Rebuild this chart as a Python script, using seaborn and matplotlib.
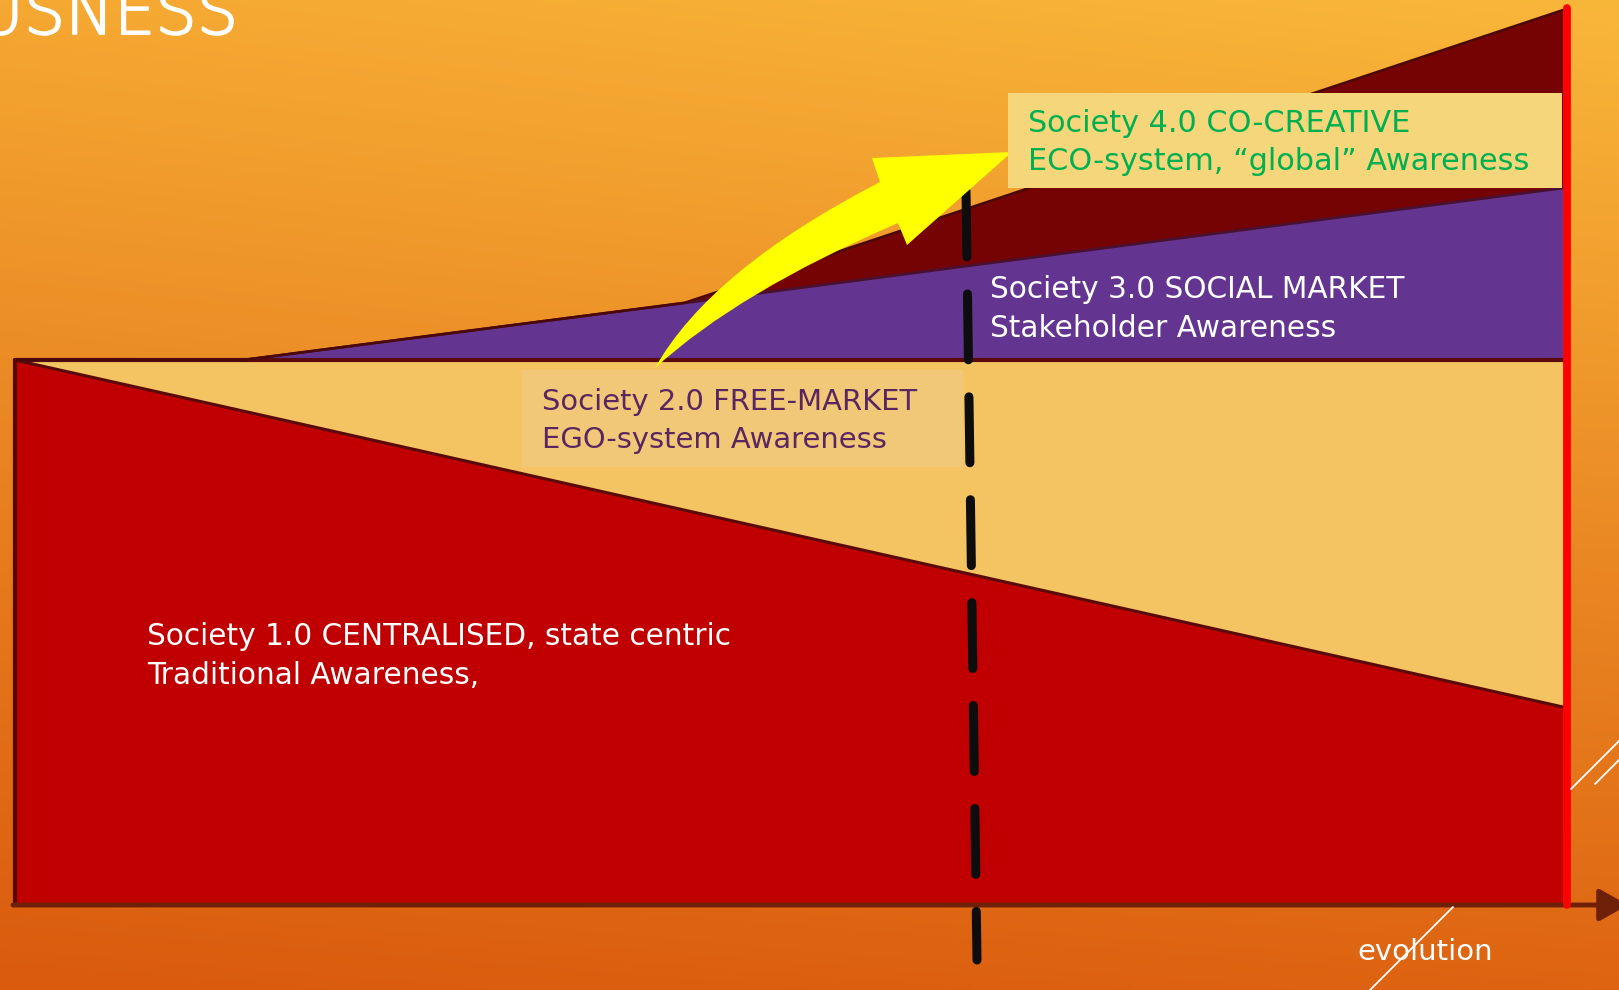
import numpy as np
import pandas as pd
import matplotlib
matplotlib.use("Agg")
import matplotlib.pyplot as plt
import matplotlib.patheffects as pe
import seaborn as sns
from matplotlib.path import Path
from matplotlib.patches import PathPatch, Rectangle

# ---------------- data (diagram geometry, pixel units) -------------
stage_x = [15, 243, 684, 1563]                 # positions along the "evolution" axis
society1_top = [360, 411, 510, 707]            # top of Society 1.0 (red)
society2_top = [360, 360, 360, 360]            # top of Society 2.0 (light yellow)
society3_top = [360, 360, 303, 188]            # top of Society 3.0 (purple)
society4_top = [360, 360, 303, 10]             # top of Society 4.0 (maroon)
baseline_y = 905

title_text = "USNESS"
society1_lines = ["Society 1.0 CENTRALISED, state centric", "Traditional Awareness,"]
society2_lines = ["Society 2.0 FREE-MARKET", "EGO-system Awareness"]
society3_lines = ["Society 3.0 SOCIAL MARKET", "Stakeholder Awareness"]
society4_lines = ["Society 4.0 CO-CREATIVE", "ECO-system, \u201cglobal\u201d Awareness"]
axis_label = "evolution"

# ---------------- style ---------------------------------------------------------------
sns.set_style("white")
plt.rcParams['font.family'] = ['DejaVu Sans']

W, H = 1619, 990
fig = plt.figure(figsize=(W / 100, H / 100), dpi=100)
ax = fig.add_axes([0, 0, 1, 1])
ax.set_xlim(0, W)
ax.set_ylim(H, 0)
ax.axis('off')

# background gradient
tl = np.array([245, 168, 50]) / 255
tr = np.array([249, 183, 58]) / 255
bl = np.array([218, 90, 14]) / 255
br = np.array([222, 100, 18]) / 255
ty = np.linspace(0, 1, 200)[:, None, None]
tx = np.linspace(0, 1, 300)[None, :, None]
top = tl * (1 - tx) + tr * tx
bot = bl * (1 - tx) + br * tx
grad = top * (1 - ty) + bot * ty
ax.imshow(grad, extent=[0, W, H, 0], aspect='auto', zorder=0, interpolation='bilinear')

x = np.array(stage_x)
s1 = np.array(society1_top)
s2 = np.array(society2_top)
s3 = np.array(society3_top)
s4 = np.array(society4_top)

ax.fill_between(x, baseline_y, s1, color='#C00000', zorder=2, lw=0)
ax.fill_between(x, s1, s2, color='#F4C462', zorder=2, lw=0)
ax.fill_between(x, s2, s3, color='#643590', zorder=2, lw=0)
ax.fill_between(x, s3, s4, color='#760303', zorder=2, lw=0)

edges = pd.DataFrame({
    'x': np.concatenate([x, x, x, x]),
    'y': np.concatenate([s1, s2, s3, s4]),
    'layer': ['s1'] * 4 + ['s2'] * 4 + ['s3'] * 4 + ['s4'] * 4,
})
sns.lineplot(data=edges[edges.layer == 's1'], x='x', y='y', estimator=None, sort=False,
             color='#5A0A0A', lw=2.2, ax=ax, zorder=3)
sns.lineplot(data=edges[edges.layer == 's2'], x='x', y='y', estimator=None, sort=False,
             color='#5A0A0A', lw=3.0, ax=ax, zorder=3)
sns.lineplot(data=edges[edges.layer == 's3'], x='x', y='y', estimator=None, sort=False,
             color='#4A1030', lw=2.0, ax=ax, zorder=3)
sns.lineplot(data=edges[edges.layer == 's4'], x='x', y='y', estimator=None, sort=False,
             color='#4A0808', lw=1.8, ax=ax, zorder=3)
# left border of the box
ax.plot([stage_x[0], stage_x[0]], [society2_top[0], baseline_y], color='#5A0505', lw=3.0, zorder=3)

# baseline arrow
ax.annotate('', xy=(1628, baseline_y), xytext=(13, baseline_y), annotation_clip=False,
            arrowprops=dict(arrowstyle='-|>,head_length=0.8,head_width=0.45', mutation_scale=22,
                            lw=3.5, color='#6E2008', shrinkA=0, shrinkB=0), zorder=4)

# red vertical line
ax.plot([1567, 1567], [8, baseline_y], color='#FF0000', lw=5.6, solid_capstyle='round', zorder=5)

# dashed black vertical line
ax.plot([966, 977], [191, 960], color='#0D0D0D', lw=6.5, linestyle=(0, (7.3, 4.1)),
        dash_capstyle='round', zorder=4)

# yellow curved arrow
verts = [(655, 368), (710, 270), (880, 182), (872, 158), (1012, 152), (907, 245),
         (898, 223), (738, 292), (655, 368), (655, 368)]
codes = [Path.MOVETO, Path.CURVE3, Path.CURVE3, Path.LINETO, Path.LINETO, Path.LINETO,
         Path.LINETO, Path.CURVE3, Path.CURVE3, Path.CLOSEPOLY]
ax.add_patch(PathPatch(Path(verts, codes), facecolor='#FFFF00', edgecolor='none', zorder=6))

# label boxes
ax.add_patch(Rectangle((1008, 93), 554, 95, facecolor='#F6D67A', edgecolor='none', zorder=7))
ax.add_patch(Rectangle((522, 370), 441, 97, facecolor='#F0C878', edgecolor='none', zorder=5))

# texts
ax.text(1028, 132, society4_lines[0], color='#00B050', fontsize=21.8, va='baseline', zorder=8)
ax.text(1028, 170, society4_lines[1], color='#00B050', fontsize=21.8, va='baseline', zorder=8)
ax.text(990, 298, society3_lines[0], color='white', fontsize=21.3, va='baseline', zorder=8)
ax.text(990, 337, society3_lines[1], color='white', fontsize=21.3, va='baseline', zorder=8)
ax.text(542, 410, society2_lines[0], color='#5B2660', fontsize=20.9, va='baseline', zorder=8)
ax.text(542, 448, society2_lines[1], color='#5B2660', fontsize=20.9, va='baseline', zorder=8)
ax.text(147, 645, society1_lines[0], color='white', fontsize=21.3, va='baseline', zorder=8)
ax.text(147, 684, society1_lines[1], color='white', fontsize=21.3, va='baseline', zorder=8)
ax.text(1357, 960, axis_label, color='white', fontsize=21, va='baseline', zorder=8)
ax.text(238, 34, title_text, color='white', fontsize=47, va='baseline', ha='right',
        fontweight='light', zorder=8,
        path_effects=[pe.withStroke(linewidth=1.4, foreground='white')])

# thin decorative white lines
ax.plot([1370, 1453], [990, 907], color='white', lw=1.3, zorder=9)
ax.plot([1571, 1625], [789, 735], color='white', lw=1.3, zorder=9)
ax.plot([1595, 1625], [784, 754], color='white', lw=1.3, zorder=9)

fig.savefig('out.png', dpi=100)
